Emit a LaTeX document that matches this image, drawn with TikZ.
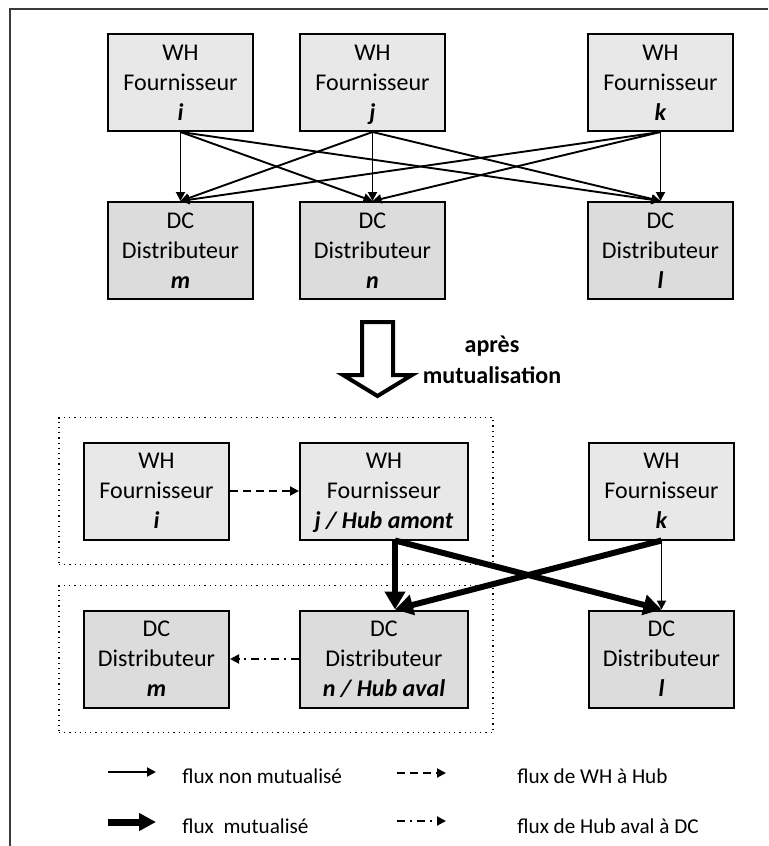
\documentclass[tikz,border=0pt]{standalone}
\usepackage{fontspec}
\setmainfont{Carlito}
\usetikzlibrary{arrows.meta,calc,fit,positioning}
\definecolor{WhFill}{HTML}{E8E8E8}
\definecolor{DcFill}{HTML}{DCDCDC}
\definecolor{FrameGray}{HTML}{3A3A3A}
\tikzset{
  whbox/.style={
    draw=black, line width=1pt, fill=WhFill, inner sep=0pt,
    minimum width=72.5pt, minimum height=48.5pt, align=center,
    font=\fontsize{12}{15}\selectfont
  },
  dcbox/.style={whbox, fill=DcFill},
  group/.style={draw=black, line width=0.6pt, dotted, inner sep=12pt},
  flow/.style={-{Triangle[length=4.5pt,width=4.5pt]}, line width=0.95pt},
  mutflow/.style={-{Triangle[length=9pt,width=10pt]}, line width=3pt},
  hubflow/.style={flow, dash pattern=on 4pt off 2.5pt},
  avalflow/.style={flow, dash pattern=on 4pt off 2.5pt on 1pt off 2.5pt},
  legend/.style={anchor=west, inner sep=0pt, font=\fontsize{10.6}{13}\selectfont}
}
\newcommand{\idx}[1]{\smash{\textbf{\textit{#1}}}}

\begin{document}
\begin{tikzpicture}[x=0.5pt,y=-0.5pt]
  \useasboundingbox (0,0) rectangle (768,846);
  \draw[FrameGray, line width=0.8pt] (10,846) |- (768,9);

  % avant mutualisation
  \node[whbox] (wi) at (180.5,82.5) {WH\\Fournisseur\\\idx{i}};
  \node[whbox] (wj) at (372.5,82.5) {WH\\Fournisseur\\\idx{j}};
  \node[whbox] (wk) at (660.5,82.5) {WH\\Fournisseur\\\idx{k}};
  \node[dcbox] (dm) at (180.5,250.5) {DC\\Distributeur\\\idx{m}};
  \node[dcbox] (dn) at (372.5,250.5) {DC\\Distributeur\\\idx{n}};
  \node[dcbox] (dl) at (660.5,250.5) {DC\\Distributeur\\\idx{l}};
  \foreach \s in {wi,wj,wk}
    \foreach \t in {dm,dn,dl}
      \draw[flow] (\s.south) -- (\t.north);

  % passage
  \draw[line width=2pt, line join=miter, fill=white]
    (362,322) -- (393,322) -- (393,375) -- (412,375) -- (377.5,396)
    -- (343,375) -- (362,375) -- cycle;
  \node[align=center, font=\fontsize{12}{15.5}\selectfont\bfseries] (apres)
    at (492,360) {après\\mutualisation};

  % apres mutualisation
  \node[whbox] (hi) at (156.5,491) {WH\\Fournisseur\\\idx{i}};
  \node[whbox, minimum width=84pt] (hj) at (384,491) {WH\\Fournisseur\\\idx{j / Hub amont}};
  \node[whbox] (hk) at (661.5,491) {WH\\Fournisseur\\\idx{k}};
  \node[dcbox] (gm) at (156.5,659) {DC\\Distributeur\\\idx{m}};
  \node[dcbox, minimum width=84pt] (gn) at (384,659) {DC\\Distributeur\\\idx{n / Hub aval}};
  \node[dcbox] (gl) at (661.5,659) {DC\\Distributeur\\\idx{l}};
  \node[group, fit=(hi)(hj)] (amont) {};
  \node[group, fit=(gm)(gn)] (aval) {};

  \coordinate (jout) at ($(hj.south)+(11,0)$);
  \coordinate (nin) at ($(gn.north)+(11,0)$);
  \draw[hubflow] (hi) -- (hj);
  \draw[avalflow] (gn) -- (gm);
  \draw[flow] (hk.south) -- (gl.north);
  \draw[mutflow] (jout) -- (nin);
  \draw[mutflow] (jout) -- (gl.north);
  \draw[mutflow] (hk.south) -- (nin);

  % legende
  \coordinate (l1a) at (108,772);
  \coordinate (l1b) at (156,772);
  \coordinate (l2a) at (108,822);
  \coordinate (l2b) at (156,822);
  \coordinate (l3a) at (397,773);
  \coordinate (l3b) at (446,773);
  \coordinate (l4a) at (397,821);
  \coordinate (l4b) at (446,821);
  \draw[flow] (l1a) -- (l1b);
  \draw[-{Triangle[length=8.5pt,width=8.5pt]}, line width=3.5pt] (l2a) -- (l2b);
  \draw[hubflow] (l3a) -- (l3b);
  \draw[avalflow] (l4a) -- (l4b);
  \node[legend] (t1) at (182,776) {flux non mutualisé};
  \node[legend] (t2) at (182,826) {flux\ \ mutualisé};
  \node[legend] (t3) at (517,776) {flux de WH à Hub};
  \node[legend] (t4) at (517,826) {flux de Hub aval à DC};
\end{tikzpicture}
\end{document}
